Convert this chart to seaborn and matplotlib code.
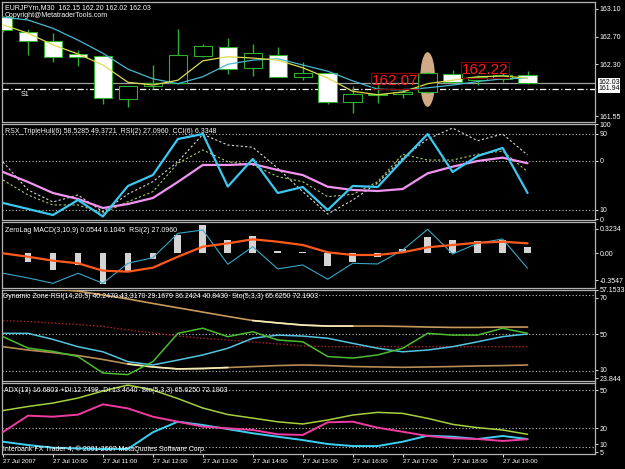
import matplotlib
matplotlib.use("Agg")
import matplotlib.pyplot as plt
import seaborn as sns
from matplotlib.patches import Ellipse

# MT4 style: black background
sns.set_theme(style="dark", rc={"axes.facecolor": "black", "figure.facecolor": "black"})
plt.rcParams['font.family'] = ['Liberation Sans', 'DejaVu Sans']

W, H = 625, 469

# EURJPYm M30, 27 Jul 2007 09:00 .. 19:30
bars = list(range(22))
tick_pos = [0, 2, 4, 6, 8, 10, 12, 14, 16, 18, 20]
tick_labels = ['27 Jul 2007', '27 Jul 10:00', '27 Jul 11:00', '27 Jul 12:00', '27 Jul 13:00',
               '27 Jul 14:00', '27 Jul 15:00', '27 Jul 16:00', '27 Jul 17:00', '27 Jul 18:00',
               '27 Jul 19:00']

o = [162.98, 162.76, 162.63, 162.45, 162.42, 161.80, 161.99, 162.03, 162.42, 162.55, 162.24,
     162.44, 162.12, 162.17, 161.76, 161.86, 161.87, 161.90, 162.16, 162.07, 162.09, 162.15]
hi = [163.00, 162.81, 162.75, 162.51, 162.43, 161.99, 162.29, 162.81, 162.59, 162.68, 162.59,
      162.55, 162.33, 162.17, 161.99, 162.00, 161.93, 162.19, 162.22, 162.15, 162.18, 162.20]
lo = [162.76, 162.43, 162.34, 162.27, 161.73, 161.68, 161.94, 162.02, 162.40, 162.16, 162.13,
      162.11, 162.07, 161.73, 161.59, 161.74, 161.81, 161.88, 162.03, 162.00, 162.05, 162.02]
c = [162.79, 162.64, 162.40, 162.41, 161.81, 161.99, 162.03, 162.44, 162.56, 162.23, 162.47,
     162.12, 162.17, 161.76, 161.87, 161.87, 161.90, 162.17, 162.05, 162.12, 162.14, 162.03]
ma_slow = [162.98, 162.94, 162.82, 162.65, 162.46, 162.23, 162.09, 162.02, 162.12, 162.30, 162.36,
           162.38, 162.29, 162.20, 162.06, 161.94, 161.93, 161.96, 162.00, 162.05, 162.09, 162.10]
ma_fast = [162.87, 162.75, 162.58, 162.45, 162.29, 162.04, 162.00, 162.07, 162.35, 162.41, 162.39,
           162.36, 162.25, 162.10, 161.91, 161.86, 161.90, 162.02, 162.07, 162.12, 162.13, 162.10]
bid, s1 = 162.03, 161.94

# RSX / RSI / CCI window
rsx_cyan = [17.4, 11.1, 4.7, 20.5, 3.2, 35.3, 46.8, 84.7, 90.0, 34.7, 63.7, 27.9, 34.2, 10.0,
            35.3, 34.2, 62.6, 90.0, 50.0, 66.8, 75.3, 27.9]
rsx_pink = [50.0, 39.5, 27.9, 21.6, 12.1, 16.3, 22.6, 39.5, 57.4, 57.4, 58.4, 52.1, 46.8, 34.5,
            31.1, 30.0, 32.1, 48.6, 55.6, 61.6, 65.1, 59.2]
rsx_white = [60.5, 31.1, 18.4, 25.8, 8.2, 26.8, 39.8, 60.8, 89.7, 78.4, 76.0, 53.9, 29.3, 5.8,
             20.5, 38.4, 64.7, 84.7, 96.3, 82.9, 90.0, 67.9]
rsx_green = [41.6, 25.8, 15.3, 15.3, 6.8, 18.7, 29.3, 59.2, 73.2, 60.8, 57.4, 45.1, 39.8, 24.0,
             26.5, 39.8, 68.6, 62.6, 62.6, 68.6, 72.1, 50.3]

# ZeroLag MACD window
macd_hist = [0.0, -0.115, -0.22, -0.15, -0.40, -0.24, -0.08, 0.24, 0.37, 0.17, 0.23, 0.03, 0.02,
             -0.17, -0.11, -0.05, 0.05, 0.22, 0.17, 0.16, 0.18, 0.08]
macd_sig = [0.0, -0.045, -0.097, -0.131, -0.228, -0.241, -0.189, -0.045, 0.087, 0.131, 0.184,
            0.152, 0.109, 0.013, -0.022, -0.022, 0.013, 0.079, 0.109, 0.139, 0.152, 0.131]
macd_rsi = [-0.262, -0.323, -0.394, -0.262, -0.394, -0.131, -0.058, 0.262, 0.306, -0.144, 0.087,
            -0.205, -0.153, -0.341, -0.131, -0.140, 0.043, 0.315, -0.009, 0.131, 0.188, -0.197]

# Dynamic Zone RSI window
dz_upper = [74.6, 74.1, 73.1, 72.0, 70.0, 68.0, 65.7, 63.5, 61.3, 59.1, 57.0, 55.8, 54.7, 54.2,
            54.2, 54.2, 54.0, 53.7, 53.5, 53.5, 53.7, 53.7]
dz_mid = [56.9, 56.5, 55.7, 55.0, 54.0, 52.2, 50.7, 49.1, 48.0, 47.1, 46.1, 45.1, 44.1, 43.7,
          43.7, 43.7, 43.7, 43.7, 43.7, 43.7, 43.7, 43.7]
dz_lower = [43.7, 42.0, 40.7, 39.2, 37.2, 34.9, 33.4, 32.4, 32.6, 33.1, 33.6, 34.1, 34.4, 34.1,
            33.6, 33.4, 33.2, 33.4, 33.6, 33.9, 34.1, 34.4]
dz_cyan = [50.5, 50.5, 47.4, 43.7, 41.1, 36.1, 34.4, 36.9, 39.5, 42.9, 48.0, 49.6, 49.1, 48.0,
           45.4, 42.9, 41.1, 42.0, 43.7, 46.2, 48.8, 50.2]
dz_green = [48.8, 43.0, 41.3, 38.7, 30.3, 29.5, 36.1, 50.5, 53.1, 48.8, 51.3, 47.1, 46.2, 38.7,
            37.9, 39.5, 42.9, 50.5, 49.6, 49.6, 53.1, 50.5]

# ADX window
adx = [33.9, 37.1, 39.8, 43.7, 49.2, 53.9, 50.0, 43.3, 35.9, 30.8, 28.0, 25.1, 23.4, 26.5, 30.4,
       32.5, 31.7, 27.8, 23.1, 20.5, 18.7, 15.3]
di_plus = [17.1, 29.9, 29.1, 30.7, 38.8, 35.6, 29.1, 25.2, 21.3, 20.0, 18.7, 15.3, 14.8, 24.7,
           25.2, 20.5, 17.3, 14.0, 12.2, 11.6, 10.1, 11.4]
di_minus = [9.5, 6.9, 4.8, 4.2, 3.8, 3.8, 16.9, 25.2, 22.6, 19.4, 16.1, 13.4, 10.8, 7.7, 6.1, 6.1,
            9.5, 14.2, 13.4, 11.6, 14.0, 11.6]

FRAME = '#b4b4b4'
DOT = (0, (1, 2))


def panel(top, bottom):
    ax = fig.add_axes([2 / W, 1 - bottom / H, 592.5 / W, (bottom - top) / H])
    ax.set_facecolor('black')
    ax.set_xlim(-0.04, 23.68)
    for s in ax.spines.values():
        s.set_color(FRAME)
        s.set_linewidth(0.9)
        s.set_visible(True)
    ax.yaxis.tick_right()
    ax.tick_params(axis='y', colors='white', labelsize=5, length=2, width=0.6, pad=1.5,
                   direction='out', right=True, left=False)
    ax.tick_params(axis='x', bottom=False, labelbottom=False)
    ax.set_xlabel('')
    ax.set_ylabel('')
    ax.grid(False)
    return ax


def label(ax, px, py, s, size=5, color='white', z=6):
    ax.text(px / W, 1 - py / H, s, transform=fig.transFigure, color=color, fontsize=size,
            ha='left', va='center', zorder=z)


def line(ax, y, color, lw, ls='-'):
    sns.lineplot(x=bars, y=y, ax=ax, color=color, linewidth=lw, linestyle=ls, zorder=3)


fig = plt.figure(figsize=(6.25, 4.69), dpi=100)

# ---- main chart
ax1 = panel(2, 122)
ax1.set_ylim(161.466, 163.20)
ax1.axhline(bid, color='#a0a0a0', lw=0.9, zorder=1)
ax1.axhline(s1, color='white', lw=0.9, linestyle=(0, (5, 2, 1, 2)), zorder=1)
label(ax1, 5, 8, 'EURJPYm,M30  162.15 162.20 162.02 162.03', z=1)
label(ax1, 5, 15.5, 'Copyright@MetatraderTools.com', z=1)
label(ax1, 21, 95, 'S1', z=1)
ax1.add_patch(Ellipse((17.0, 162.08), 0.6, 0.79, facecolor='#d2a985', edgecolor='none', zorder=2))
green = '#2fae2f'
ax1.vlines(bars, lo, hi, color=green, lw=1, zorder=3)
body_lo = [min(a, b) for a, b in zip(o, c)]
body_h = [max(abs(a - b), 0.004) for a, b in zip(o, c)]
fills = ['black' if b >= a else 'white' for a, b in zip(o, c)]
ax1.bar(bars, body_h, bottom=body_lo, width=0.74, color=fills, edgecolor=green,
        linewidth=0.8, zorder=4)
line(ax1, ma_slow, '#4ab8d0', 0.9)
line(ax1, ma_fast, '#dcdc50', 0.9)
for ln in ax1.lines[-2:]:
    ln.set_zorder(5)
for tx, ty, s in [(14.76, 162.06, '162.07'), (18.36, 162.215, '162.22')]:
    ax1.text(tx, ty, s, color='#ff1a1a', fontsize=11, ha='left', va='center', zorder=7,
             bbox=dict(facecolor='none', edgecolor='#8a0000', pad=0.5, lw=0.8))
ax1.set_yticks([163.10, 162.70, 162.30, 161.55])
ax1.set_yticklabels(['163.10', '162.70', '162.30', '161.55'])
for py, s in [(82.0, '162.03'), (89.0, '161.94')]:
    fig.text(598 / W, 1 - py / H, s, color='black', fontsize=5, ha='left', va='center',
             bbox=dict(facecolor='white', edgecolor='none', pad=0.3))

# ---- RSX window
ax2 = panel(123.5, 220)
ax2.set_ylim(-0.53, 101.05)
for lv in [90, 62, 10]:
    ax2.axhline(lv, color='#c8c8c8', lw=0.8, linestyle=DOT, zorder=1)
line(ax2, rsx_white, '#d8d8d8', 0.8, (0, (2, 2)))
line(ax2, rsx_green, '#a8cc60', 0.8, (0, (2, 2)))
line(ax2, rsx_pink, '#f094f0', 1.6)
line(ax2, rsx_cyan, '#3cc8f0', 1.6)
label(ax2, 5, 131.5, 'RSX_TripleHull(6) 58.5285 49.3721  RSI(2) 27.0960  CCI(6) 6.3348')
ax2.set_yticks([100, 90, 62, 10, 0])
ax2.set_yticklabels(['100', '90', '0', '10', '0'])

# ---- ZeroLag MACD window
ax3 = panel(222, 287.5)
ax3.set_ylim(-0.449, 0.411)
ax3.bar(bars, macd_hist, width=0.27, color='#d4d4d4', edgecolor='none', zorder=2)
line(ax3, macd_rsi, '#3aa6c8', 0.8)
line(ax3, macd_sig, '#ff5a1e', 1.6)
label(ax3, 5, 230, 'ZeroLag MACD(3,10,9) 0.0544 0.1045  RSI(2) 27.0960')
ax3.set_yticks([0.3234, 0.0, -0.3547])
ax3.set_yticklabels(['0.3234', '0.00', '-0.3547'])

# ---- Dynamic Zone RSI window
ax4 = panel(289.5, 380.5)
ax4.set_ylim(26.5, 72.8)
for lv in [70, 50, 31.5]:
    ax4.axhline(lv, color='#c8c8c8', lw=0.8, linestyle=DOT, zorder=1)
line(ax4, dz_upper, '#c89a5c', 1.2)
sns.lineplot(x=bars[10:15], y=dz_upper[10:15], ax=ax4, color='#f4ecb8', linewidth=1.2, zorder=3)
line(ax4, dz_mid, '#b02424', 1.0, (0, (1, 1.5)))
line(ax4, dz_lower, '#b88c54', 1.2)
sns.lineplot(x=bars[5:10], y=dz_lower[5:10], ax=ax4, color='#f4ecb8', linewidth=1.2, zorder=3)
line(ax4, dz_cyan, '#54c4e0', 1.1)
line(ax4, dz_green, '#4cbc30', 1.1)
label(ax4, 3, 297, 'Dynamic Zone RSI(14,20,5) 40.2470 43.3170 29.1679 36.2424 40.8430  '
      'Sto(5,3,3) 65.6250 72.1903')
ax4.set_yticks([72.7, 68.6, 50, 32.0, 27.7])
ax4.set_yticklabels(['57.1533', '70', '50', '10', '23.844'])

# ---- ADX window
ax5 = panel(382.5, 454)
ax5.set_ylim(-0.13, 55.9)
for lv in [50, 20, 5.6]:
    ax5.axhline(lv, color='#c8c8c8', lw=0.8, linestyle=DOT, zorder=1)
line(ax5, adx, '#a4d040', 1.1)
line(ax5, di_minus, '#3cd0f4', 1.4)
line(ax5, di_plus, '#f03ca0', 1.4)
label(ax5, 4, 390, 'ADX(13) 16.6803 +DI:12.7498 -DI:13.4640  Sto(5,3,3) 65.6250 72.1903')
label(ax5, 3, 449, 'Interbank FX Trader 4, \u00a9 2001-2007 MetaQuotes Software Corp.')
ax5.set_yticks([50, 20, 7.6, 1.4])
ax5.set_yticklabels(['50', '20', '10', '5'])
ax5.set_xticks(tick_pos)
ax5.set_xticklabels(tick_labels)
ax5.tick_params(axis='x', bottom=True, labelbottom=True, colors='white', labelsize=4.6,
                length=2.5, width=0.6, pad=1, direction='out')
for t in ax5.get_xticklabels():
    t.set_ha('left')

fig.savefig('out.png', dpi=100, facecolor='black')
